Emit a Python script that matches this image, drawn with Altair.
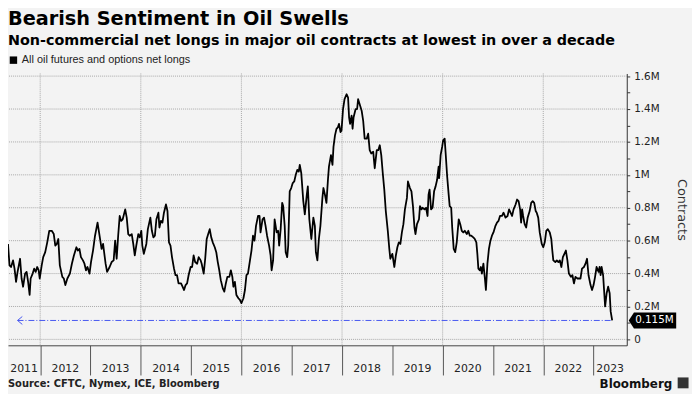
import altair as alt
import pandas as pd

title_text = "Bearish Sentiment in Oil Swells"
subtitle_text = "Non-commercial net longs in major oil contracts at lowest in over a decade"
series_name = "All oil futures and options net longs"
source_text = "Source: CFTC, Nymex, ICE, Bloomberg"
brand_text = "Bloomberg"
y_title = "Contracts"

# weekly readings (decimal year) and net longs in millions of contracts
dates = [
    2011.36, 2011.39, 2011.42, 2011.46, 2011.49, 2011.52, 2011.55, 2011.60, 2011.63, 2011.66,
    2011.70, 2011.73, 2011.76, 2011.79, 2011.81, 2011.85, 2011.88, 2011.91, 2011.94, 2011.97,
    2011.99, 2012.03, 2012.06, 2012.10, 2012.14, 2012.18, 2012.23, 2012.27, 2012.30, 2012.33,
    2012.36, 2012.39, 2012.44, 2012.47, 2012.50, 2012.54, 2012.59, 2012.63, 2012.67, 2012.72,
    2012.75, 2012.78, 2012.81, 2012.85, 2012.88, 2012.91, 2012.94, 2012.98, 2013.01, 2013.05,
    2013.09, 2013.14, 2013.17, 2013.22, 2013.25, 2013.30, 2013.33, 2013.38, 2013.42, 2013.46,
    2013.49, 2013.52, 2013.55, 2013.58, 2013.61, 2013.64, 2013.69, 2013.72, 2013.75, 2013.78,
    2013.82, 2013.85, 2013.88, 2013.91, 2013.95, 2013.98, 2014.01, 2014.03, 2014.06, 2014.11,
    2014.14, 2014.19, 2014.22, 2014.25, 2014.28, 2014.31, 2014.35, 2014.37, 2014.40, 2014.43,
    2014.46, 2014.50, 2014.53, 2014.56, 2014.59, 2014.62, 2014.66, 2014.69, 2014.72, 2014.75,
    2014.80, 2014.83, 2014.86, 2014.89, 2014.92, 2014.95, 2014.99, 2015.02, 2015.05, 2015.08,
    2015.12, 2015.15, 2015.19, 2015.21, 2015.25, 2015.28, 2015.31, 2015.34, 2015.37, 2015.40,
    2015.43, 2015.47, 2015.50, 2015.53, 2015.56, 2015.59, 2015.63, 2015.66, 2015.69, 2015.72,
    2015.76, 2015.79, 2015.82, 2015.84, 2015.87, 2015.90, 2015.94, 2015.97, 2016.00, 2016.04,
    2016.07, 2016.10, 2016.13, 2016.17, 2016.20, 2016.23, 2016.26, 2016.29, 2016.33, 2016.36,
    2016.38, 2016.42, 2016.45, 2016.48, 2016.51, 2016.55, 2016.58, 2016.60, 2016.63, 2016.66,
    2016.70, 2016.73, 2016.75, 2016.78, 2016.81, 2016.83, 2016.86, 2016.88, 2016.91, 2016.93,
    2016.96, 2016.99, 2017.02, 2017.05, 2017.08, 2017.11, 2017.14, 2017.16, 2017.19, 2017.23,
    2017.26, 2017.30, 2017.32, 2017.35, 2017.39, 2017.43, 2017.46, 2017.48, 2017.51, 2017.54,
    2017.57, 2017.61, 2017.63, 2017.66, 2017.69, 2017.72, 2017.74, 2017.78, 2017.81, 2017.83,
    2017.86, 2017.89, 2017.92, 2017.94, 2017.97, 2017.99, 2018.02, 2018.05, 2018.09, 2018.12,
    2018.14, 2018.16, 2018.19, 2018.21, 2018.23, 2018.27, 2018.30, 2018.32, 2018.36, 2018.39,
    2018.42, 2018.45, 2018.49, 2018.52, 2018.55, 2018.58, 2018.62, 2018.65, 2018.69, 2018.72,
    2018.75, 2018.78, 2018.81, 2018.84, 2018.87, 2018.91, 2018.94, 2018.96, 2019.00, 2019.04,
    2019.07, 2019.10, 2019.13, 2019.16, 2019.19, 2019.22, 2019.25, 2019.29, 2019.31, 2019.35,
    2019.38, 2019.41, 2019.44, 2019.46, 2019.49, 2019.53, 2019.55, 2019.58, 2019.60, 2019.64,
    2019.67, 2019.70, 2019.72, 2019.74, 2019.77, 2019.80, 2019.83, 2019.86, 2019.89, 2019.92,
    2019.93, 2019.96, 2019.99, 2020.01, 2020.04, 2020.06, 2020.09, 2020.12, 2020.14, 2020.17,
    2020.19, 2020.22, 2020.25, 2020.28, 2020.32, 2020.35, 2020.38, 2020.41, 2020.44, 2020.48,
    2020.51, 2020.54, 2020.57, 2020.61, 2020.64, 2020.67, 2020.69, 2020.71, 2020.74, 2020.76,
    2020.78, 2020.81, 2020.84, 2020.86, 2020.89, 2020.92, 2020.95, 2020.98, 2021.01, 2021.05,
    2021.08, 2021.11, 2021.14, 2021.18, 2021.21, 2021.25, 2021.29, 2021.32, 2021.35, 2021.38,
    2021.41, 2021.45, 2021.48, 2021.51, 2021.54, 2021.56, 2021.58, 2021.60, 2021.63, 2021.66,
    2021.69, 2021.73, 2021.76, 2021.79, 2021.82, 2021.85, 2021.87, 2021.90, 2021.93, 2021.97,
    2022.00, 2022.03, 2022.06, 2022.09, 2022.13, 2022.16, 2022.18, 2022.20, 2022.24, 2022.27,
    2022.30, 2022.33, 2022.36, 2022.39, 2022.42, 2022.45, 2022.48, 2022.51, 2022.55, 2022.58,
    2022.61, 2022.64, 2022.68, 2022.71, 2022.74, 2022.77, 2022.81, 2022.84, 2022.87, 2022.90,
    2022.94, 2022.97, 2023.00, 2023.03, 2023.06, 2023.10, 2023.12, 2023.14, 2023.16, 2023.19,
    2023.23, 2023.26, 2023.29, 2023.32, 2023.34, 2023.37,
]
net_longs = [
    0.58, 0.45, 0.44, 0.48, 0.43, 0.35, 0.41, 0.49, 0.37, 0.32,
    0.40, 0.41, 0.35, 0.27, 0.37, 0.40, 0.43, 0.41, 0.44, 0.42,
    0.37, 0.45, 0.50, 0.53, 0.59, 0.66, 0.66, 0.64, 0.57, 0.58,
    0.61, 0.45, 0.38, 0.37, 0.33, 0.37, 0.40, 0.46, 0.51, 0.56,
    0.54, 0.55, 0.50, 0.48, 0.46, 0.42, 0.44, 0.40, 0.47, 0.54,
    0.63, 0.71, 0.65, 0.55, 0.58, 0.46, 0.41, 0.44, 0.47, 0.48,
    0.60, 0.49, 0.63, 0.75, 0.72, 0.73, 0.79, 0.74, 0.64, 0.63,
    0.64, 0.58, 0.51, 0.57, 0.64, 0.62, 0.66, 0.57, 0.52, 0.58,
    0.67, 0.74, 0.66, 0.62, 0.63, 0.73, 0.77, 0.68, 0.72, 0.71,
    0.77, 0.82, 0.78, 0.59, 0.57, 0.50, 0.43, 0.39, 0.39, 0.34,
    0.34, 0.32, 0.30, 0.33, 0.34, 0.39, 0.44, 0.44, 0.51, 0.47,
    0.46, 0.50, 0.48, 0.46, 0.40, 0.49, 0.61, 0.64, 0.67, 0.62,
    0.59, 0.56, 0.53, 0.47, 0.42, 0.36, 0.31, 0.29, 0.34, 0.38,
    0.38, 0.42, 0.38, 0.32, 0.35, 0.27, 0.25, 0.24, 0.22, 0.25,
    0.30, 0.39, 0.40, 0.48, 0.54, 0.63, 0.60, 0.69, 0.75, 0.75,
    0.65, 0.73, 0.74, 0.69, 0.63, 0.57, 0.51, 0.42, 0.48, 0.73,
    0.65, 0.66, 0.57, 0.67, 0.83, 0.81, 0.69, 0.53, 0.50, 0.57,
    0.90, 0.92, 0.95, 0.96, 1.00, 1.03, 1.02, 1.06, 1.01, 0.84,
    0.76, 0.88, 0.93, 0.73, 0.61, 0.74, 0.69, 0.53, 0.48, 0.61,
    0.69, 0.86, 0.92, 0.88, 0.83, 0.97, 1.05, 1.12, 1.06, 1.17,
    1.24, 1.28, 1.29, 1.31, 1.26, 1.27, 1.40, 1.46, 1.49, 1.47,
    1.35, 1.31, 1.36, 1.28, 1.35, 1.40, 1.40, 1.46, 1.42, 1.39,
    1.33, 1.22, 1.22, 1.25, 1.15, 1.13, 1.14, 1.04, 1.15, 1.15,
    1.18, 1.12, 1.01, 0.91, 0.78, 0.66, 0.55, 0.49, 0.52, 0.44,
    0.51, 0.56, 0.59, 0.58, 0.65, 0.70, 0.79, 0.86, 0.96, 0.92,
    0.90, 0.81, 0.68, 0.64, 0.70, 0.73, 0.81, 0.79, 0.80, 0.79,
    0.80, 0.75, 0.88, 0.91, 0.79, 0.80, 0.90, 0.93, 0.97, 1.05,
    0.98, 1.12, 1.17, 1.21, 1.22, 1.13, 0.99, 0.88, 0.81, 0.80,
    0.68, 0.55, 0.53, 0.59, 0.73, 0.70, 0.66, 0.65, 0.66, 0.64,
    0.66, 0.63, 0.63, 0.62, 0.61, 0.59, 0.52, 0.43, 0.42, 0.44,
    0.40, 0.46, 0.37, 0.30, 0.46, 0.55, 0.60, 0.63, 0.65, 0.69,
    0.71, 0.72, 0.75, 0.75, 0.77, 0.74, 0.75, 0.79, 0.77, 0.75,
    0.79, 0.82, 0.85, 0.84, 0.79, 0.71, 0.79, 0.75, 0.70, 0.68,
    0.74, 0.78, 0.83, 0.84, 0.83, 0.78, 0.77, 0.74, 0.65, 0.58,
    0.56, 0.59, 0.66, 0.67, 0.65, 0.61, 0.54, 0.48, 0.47, 0.48,
    0.47, 0.48, 0.44, 0.50, 0.52, 0.54, 0.48, 0.40, 0.38, 0.39,
    0.34, 0.38, 0.37, 0.37, 0.37, 0.43, 0.44, 0.46, 0.49, 0.39,
    0.33, 0.30, 0.33, 0.38, 0.44, 0.41, 0.44, 0.39, 0.44, 0.39,
    0.20, 0.28, 0.32, 0.28, 0.17, 0.115,
]
assert len(dates) == len(net_longs)

year_ticks = list(range(2012, 2024))
year_labels = list(range(2011, 2024))
grid_years = [2012, 2014, 2016, 2018, 2020, 2022]
y_ticks = [round(i * 0.1, 1) for i in range(17)]
grid_values = [round(i * 0.2, 1) for i in range(9)]
x_domain = [2011.36, 2023.66]
y_domain = [-0.036, 1.616]
marker_start = 2011.55

W, H = 626, 275
BLUE = "#4657f0"
GRID = "#a8a8a8"
FONT = "DejaVu Sans"

df = pd.DataFrame({"date": dates, "value": net_longs, "series": series_name})

lab = pd.DataFrame({"year": year_labels})
lab["pos"] = [(max(y, x_domain[0]) + min(y + 1, x_domain[1])) / 2 for y in year_labels]
lab["label"] = lab["year"].astype(str)

last_date, last_val = dates[-1], net_longs[-1]
ref = pd.DataFrame({"x0": [marker_start], "x1": [last_date], "v": [last_val],
                    "label": [f"{last_val:.3f}M"]})

even_tenth = "round(datum.value * 10) % 2 == 0"

x_scale = alt.Scale(domain=x_domain, nice=False, zero=False)
y_scale = alt.Scale(domain=y_domain, nice=False, zero=False)

x_axis = alt.Axis(values=year_ticks, labels=False, title=None, tickSize=30,
                  tickColor="#555", domainColor="#444", grid=False)
y_axis = alt.Axis(orient="right", values=y_ticks, title=y_title, tickSize=3,
                  tickColor="#333", domainColor="#333", labelPadding=4,
                  labelOverlap=False, labelFlush=False, titlePadding=16,
                  labelExpr=f"{even_tenth} ? (datum.value == 0 ? '0' : format(datum.value, '.1~f') + 'M') : ''",
                  grid=False)


def X(field):
    return alt.X(field, scale=x_scale, axis=x_axis)


def Y(field):
    return alt.Y(field, scale=y_scale, axis=y_axis)


vgrid = alt.Chart(pd.DataFrame({"g": grid_years})).mark_rule(
    color=GRID, strokeDash=[1, 1], strokeWidth=1).encode(x=X("g:Q"))
hgrid = alt.Chart(pd.DataFrame({"g": grid_values})).mark_rule(
    color=GRID, strokeDash=[1, 1], strokeWidth=1).encode(y=Y("g:Q"))

line = alt.Chart(df).mark_line(strokeWidth=1.8, strokeJoin="round").encode(
    x=X("date:Q"),
    y=Y("value:Q"),
    color=alt.Color("series:N", scale=alt.Scale(domain=[series_name], range=["#000000"]),
                    legend=alt.Legend(title=None, orient="none", legendX=0, legendY=-19,
                                      symbolType="square", symbolSize=9, symbolStrokeWidth=4.5,
                                      labelFont="Liberation Sans Narrow, Liberation Sans",
                                      labelFontSize=11, labelColor="#222", labelOffset=3,
                                      labelLimit=0, padding=0)),
)

rule = alt.Chart(ref).mark_rule(color=BLUE, strokeDash=[6, 2, 1, 2], strokeWidth=1).encode(
    x=X("x0:Q"), x2="x1", y=Y("v:Q")
)
arrow = alt.Chart(ref).mark_point(shape="M1.2,-1L0,0L1.2,1", size=64, filled=False,
                                  color=BLUE, strokeWidth=1, opacity=1).encode(
    x=X("x0:Q"), y=Y("v:Q")
)
box = alt.Chart(ref).mark_point(shape="M-1,0L-0.78,-0.34L1,-0.34L1,0.34L-0.78,0.34Z",
                                size=2304, filled=True, color="#000", opacity=1).encode(
    x=alt.value(W + 26), y=Y("v:Q")
)
box_text = alt.Chart(ref).mark_text(color="white", font=FONT, fontSize=10.5,
                                    align="center", baseline="middle").encode(
    x=alt.value(W + 28), y=Y("v:Q"), text="label:N"
)

years = alt.Chart(lab).mark_text(font=FONT, fontSize=11, color="#222", baseline="middle").encode(
    x=X("pos:Q"), y=alt.value(H + 23.5), text="label:N"
)

src = alt.Chart(pd.DataFrame({"t": [source_text]})).mark_text(
    align="left", baseline="alphabetic", font=FONT, fontWeight="bold", fontSize=10, color="#222"
).encode(x=alt.value(0), y=alt.value(H + 42.5), text="t:N")

brand = alt.Chart(pd.DataFrame({"t": [brand_text]})).mark_text(
    align="right", baseline="alphabetic", font=FONT, fontWeight="bold", fontSize=12, color="#111"
).encode(x=alt.value(672), y=alt.value(H + 43), text="t:N")

icon = alt.Chart(pd.DataFrame({"t": [brand_text]})).mark_square(size=121, color="#333", opacity=1).encode(
    x=alt.value(683), y=alt.value(H + 38)
)

chart = alt.layer(vgrid, hgrid, line, rule, arrow, box, box_text, years, src, brand, icon).properties(
    width=W,
    height=H,
    title=alt.Title(text=title_text, subtitle=subtitle_text, anchor="start", frame="group",
                    offset=6, font=FONT, fontSize=19.5, fontWeight="bold", color="#000",
                    subtitleFont=FONT, subtitleFontSize=14.5, subtitleFontWeight="bold",
                    subtitleColor="#000", subtitlePadding=5),
    autosize=alt.AutoSizeParams(type="none"),
    padding={"left": 0, "top": 64, "right": 66, "bottom": 47},
    background="#f3f3f3",
).configure_view(stroke=None).configure_axis(
    labelFont=FONT, labelFontSize=10.5, labelColor="#222",
    titleFont=FONT, titleFontSize=13, titleColor="#333", titleFontWeight="normal",
)

chart.save("out.html", embed_options={"renderer": "svg", "actions": False})
